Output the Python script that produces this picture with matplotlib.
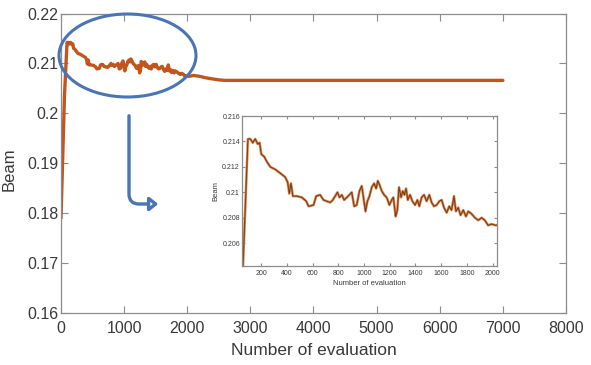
import matplotlib
matplotlib.use("Agg")
import matplotlib.pyplot as plt
from matplotlib.patches import Ellipse, FancyArrowPatch

plt.rcParams['font.family'] = ['Liberation Sans', 'DejaVu Sans']

# values (number of evaluation, beam)
evals = [0, 55, 96, 115, 133, 153, 172, 187, 200, 223, 244, 270, 309, 348, 386, 405, 418, 431,
         446, 477, 516, 550, 568, 607, 627, 658, 684, 710, 736, 757, 775, 793, 809, 827, 845,
         866, 886, 904, 923, 943, 964, 982, 995, 1011, 1026, 1042, 1060, 1078, 1094, 1107,
         1120, 1138, 1156, 1176, 1197, 1215, 1228, 1246, 1259, 1272, 1288, 1301, 1314, 1327,
         1340, 1358, 1376, 1397, 1415, 1430, 1448, 1467, 1487, 1508, 1526, 1544, 1565, 1586,
         1604, 1622, 1643, 1663, 1681, 1700, 1715, 1733, 1751, 1772, 1793, 1811, 1837, 1863,
         1889, 1915, 1940, 1966, 1992, 2026, 2100, 2200, 2300, 2400, 2500, 2600, 2700, 7000]
beam = [0.1790, 0.2035, 0.2142, 0.2142, 0.2139, 0.2142, 0.2138, 0.2139, 0.2130, 0.2128,
        0.2124, 0.2120, 0.2118, 0.2115, 0.2112, 0.2108, 0.2099, 0.2107, 0.2097, 0.2097,
        0.2096, 0.2093, 0.2089, 0.2090, 0.2097, 0.2098, 0.2094, 0.2093, 0.2092, 0.2094,
        0.2097, 0.2100, 0.2096, 0.2098, 0.2094, 0.2096, 0.2098, 0.2100, 0.2089, 0.2090,
        0.2101, 0.2105, 0.2096, 0.2085, 0.2093, 0.2097, 0.2104, 0.2107, 0.2103, 0.2109,
        0.2106, 0.2101, 0.2098, 0.2096, 0.2090, 0.2094, 0.2096, 0.2081, 0.2086, 0.2104,
        0.2096, 0.2101, 0.2098, 0.2103, 0.2094, 0.2098, 0.2093, 0.2090, 0.2094, 0.2089,
        0.2096, 0.2098, 0.2093, 0.2098, 0.2092, 0.2089, 0.2090, 0.2093, 0.2094, 0.2088,
        0.2084, 0.2089, 0.2086, 0.2097, 0.2085, 0.2088, 0.2082, 0.2086, 0.2081, 0.2085,
        0.2083, 0.2080, 0.2078, 0.2080, 0.2078, 0.2074, 0.2075, 0.2074, 0.2076, 0.2074,
        0.2071, 0.2069, 0.2067, 0.2066, 0.2066, 0.2066]

main_xticks = [0, 1000, 2000, 3000, 4000, 5000, 6000, 7000, 8000]
main_yticks = [0.16, 0.17, 0.18, 0.19, 0.20, 0.21, 0.22]
main_ylabels = ['0.16', '0.17', '0.18', '0.19', '0.2', '0.21', '0.22']
inset_xticks = [200, 400, 600, 800, 1000, 1200, 1400, 1600, 1800, 2000]
inset_yticks = [0.206, 0.208, 0.210, 0.212, 0.214, 0.216]
inset_ylabels = ['0.206', '0.208', '0.21', '0.212', '0.214', '0.216']

line_col = '#c0561e'
spine_col = '#8c8c8c'
text_col = '#3a3a3a'

fig = plt.figure(figsize=(5.91, 3.65), dpi=100)

def style(ax, size, tl):
    for s in ax.spines.values():
        s.set_color(spine_col)
        s.set_linewidth(0.9)
    ax.tick_params(direction='in', top=True, right=True, colors=spine_col,
                   labelcolor=text_col, labelsize=size, length=tl, width=0.8)

ax = fig.add_axes([0.1032, 0.1425, 0.8545, 0.8205])
ax.plot(evals, beam, color=line_col, lw=2.4, solid_capstyle='round')
ax.set_xlim(0, 8000)
ax.set_ylim(0.16, 0.22)
ax.set_xticks(main_xticks)
ax.set_yticks(main_yticks)
ax.set_yticklabels(main_ylabels)
style(ax, 11.5, 5)
ax.tick_params(axis='x', pad=5.5)
ax.tick_params(axis='y', pad=2)
ax.set_xlabel('Number of evaluation', fontsize=12.5, color=text_col, labelpad=5)
ax.set_ylabel('Beam', fontsize=12, color=text_col)
ax.yaxis.set_label_coords(-0.088, 0.48)

ins = fig.add_axes([0.4095, 0.2712, 0.4315, 0.4108])
ins.plot(evals, beam, color='#e07a3a', lw=1.8)
ins.plot(evals, beam, color='#5a3a22', lw=0.6)
ins.set_xlim(50, 2035)
ins.set_ylim(0.2042, 0.216)
ins.set_xticks(inset_xticks)
ins.set_yticks(inset_yticks)
ins.set_yticklabels(inset_ylabels)
style(ins, 5, 2)
ins.tick_params(axis='x', pad=3)
ins.tick_params(axis='y', pad=1.5)
ins.set_xlabel('Number of evaluation', fontsize=5.5, color=text_col, labelpad=2)
ins.set_ylabel('Beam', fontsize=5.5, color=text_col, labelpad=2)

# callout: ellipse around the early part and the arrow to the zoomed view
W, H = 591.0, 365.0
fig.patches.append(Ellipse((127.5 / W, 1 - 55.5 / H), 137 / W, 83 / H,
                           transform=fig.transFigure, fill=False,
                           edgecolor='#4a74b4', lw=2.2))
fig.patches.append(FancyArrowPatch((129 / W, 1 - 113 / H), (161 / W, 1 - 204 / H),
                                   transform=fig.transFigure,
                                   connectionstyle='angle,angleA=-90,angleB=0,rad=10',
                                   arrowstyle='-|>,head_length=5,head_width=4',
                                   facecolor='white', edgecolor='#4a74b4', lw=2.4))

fig.savefig('out.png', dpi=100)
